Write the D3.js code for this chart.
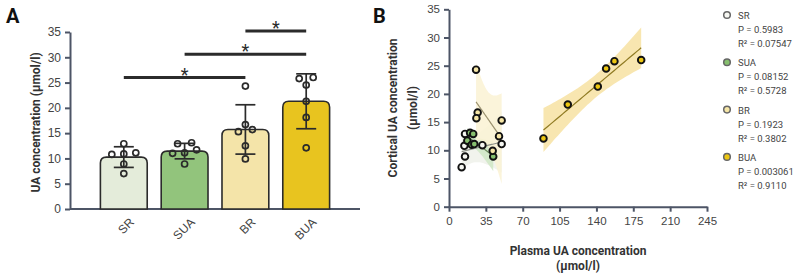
<!DOCTYPE html>
<html>
<head>
<meta charset="utf-8">
<script src="https://cdn.jsdelivr.net/npm/d3@7"></script>
<style>
  body { margin: 0; background: #fff; }
  svg { font-family: Roboto, "Noto Sans", sans-serif; }
  .axis path, .axis line { stroke: #4d5566; stroke-width: 2; }
  .axis text { fill: #444; }
</style>
</head>
<body>
<svg width="794" height="275"></svg>
<script>
const groups = ["SR", "SUA", "BR", "BUA"];

// plasma (x) and cortical (y) UA, µmol/l
const plasmaSR = [12.0, 15.2, 14.6, 15.2, 31.7, 50.0];
const corticalSR = [7.0, 8.9, 10.8, 12.9, 10.9, 11.1];
const plasmaSUA = [20.0, 23.0, 17.4, 21.6, 24.0, 42.0];
const corticalSUA = [13.1, 12.9, 11.7, 11.0, 11.1, 8.9];
const plasmaBR = [25.7, 27.2, 26.0, 50.0, 47.5, 41.5];
const corticalBR = [24.3, 16.7, 15.7, 15.3, 12.5, 9.9];
const plasmaBUA = [89.7, 112.8, 141.3, 149.2, 157.1, 182.5];
const corticalBUA = [12.1, 18.1, 21.3, 24.5, 25.8, 26.0];

const pValues = ["0.5983", "0.08152", "0.1923", "0.003061"];
const r2Values = ["0.07547", "0.5728", "0.3802", "0.9110"];

const sigPairs = [["SR", "BR"], ["SUA", "BUA"], ["BR", "BUA"]];

const yTicksA = d3.range(0, 36, 5);
const yTicksB = d3.range(0, 36, 5);
const xTicksB = d3.range(0, 246, 35);

const barFill = {SR: "#e4ecda", SUA: "#92c47c", BR: "#f4e4a9", BUA: "#e8c41f"};
const dotFill = {SR: "#f6f7f2", SUA: "#86bf6e", BR: "#f6e6a6", BUA: "#ecc612"};
const bandFill = {SR: "#eef1ea", SUA: "#cfe6c4", BR: "#faf2d4", BUA: "#f7e2a2"};
const lineCol = {SR: "#8c9088", SUA: "#6d8a5e", BR: "#9b9270", BUA: "#8f7a22"};

const plasma = {SR: plasmaSR, SUA: plasmaSUA, BR: plasmaBR, BUA: plasmaBUA};
const cortical = {SR: corticalSR, SUA: corticalSUA, BR: corticalBR, BUA: corticalBUA};

const svg = d3.select("svg");
const ink = "#2b2b2b";

// ---------- panel A ----------
const xA = d3.scaleBand().domain(groups).range([70, 360]).paddingInner(0.23).paddingOuter(0.5);
const yA = d3.scaleLinear().domain([0, 35]).range([209, 32]);

const gA = svg.append("g");

gA.append("g").attr("class", "axis")
  .attr("transform", `translate(${xA.range()[0]},0)`)
  .call(d3.axisLeft(yA).tickValues(yTicksA).tickSize(5).tickSizeOuter(0).tickPadding(4))
  .selectAll("text").style("font-size", "12px");

const xAxisA = gA.append("g").attr("class", "axis")
  .attr("transform", `translate(0,${yA(0)})`)
  .call(d3.axisBottom(xA).tickSize(0).tickSizeOuter(0));
xAxisA.select(".domain").attr("d", `M${xA.range()[0]},0H${xA.range()[1]}`);
xAxisA.selectAll("text")
  .style("font-size", "12px")
  .attr("text-anchor", "end")
  .attr("dy", "0.35em")
  .attr("y", 0)
  .attr("transform", "translate(8,11) rotate(-45)");

function topRounded(x, y, w, h, r) {
  return `M${x},${y + h}V${y + r}Q${x},${y} ${x + r},${y}H${x + w - r}Q${x + w},${y} ${x + w},${y + r}V${y + h}Z`;
}

const stats = groups.map(g => ({
  g, mean: d3.mean(cortical[g]), sd: d3.deviation(cortical[g])
}));

gA.selectAll(".bar").data(stats).enter().append("path")
  .attr("class", "bar")
  .attr("d", d => topRounded(xA(d.g), yA(d.mean), xA.bandwidth(), yA(0) - yA(d.mean), 6))
  .attr("fill", d => barFill[d.g])
  .attr("stroke", ink).attr("stroke-width", 1.6);

// jittered dots: cluster close values and spread them sideways
function jitter(vals) {
  const idx = vals.map((v, i) => i).sort((a, b) => vals[a] - vals[b]);
  const off = new Array(vals.length).fill(0);
  let cluster = [idx[0]];
  const flush = () => {
    const n = cluster.length;
    const step = n === 2 ? 14 : 12;
    cluster.forEach((k, j) => off[k] = (j - (n - 1) / 2) * step);
  };
  for (let i = 1; i < idx.length; i++) {
    if (vals[idx[i]] - vals[idx[i - 1]] < 1.0) cluster.push(idx[i]);
    else { flush(); cluster = [idx[i]]; }
  }
  flush();
  return off;
}

groups.forEach(g => {
  const off = jitter(cortical[g]);
  const cx = xA(g) + xA.bandwidth() / 2;
  gA.selectAll(null).data(cortical[g]).enter().append("circle")
    .attr("cx", (d, i) => cx + off[i])
    .attr("cy", d => yA(d))
    .attr("r", 3)
    .attr("fill", "none")
    .attr("stroke", ink).attr("stroke-width", 1.7);
});

const eb = gA.selectAll(".eb").data(stats).enter().append("g")
  .attr("transform", d => `translate(${xA(d.g) + xA.bandwidth() / 2},0)`)
  .attr("stroke", ink).attr("stroke-width", 1.7);
eb.append("line").attr("y1", d => yA(d.mean - d.sd)).attr("y2", d => yA(d.mean + d.sd));
eb.append("line").attr("x1", -10).attr("x2", 10).attr("y1", d => yA(d.mean + d.sd)).attr("y2", d => yA(d.mean + d.sd));
eb.append("line").attr("x1", -10).attr("x2", 10).attr("y1", d => yA(d.mean - d.sd)).attr("y2", d => yA(d.mean - d.sd));

// significance brackets
let prevLevel = -Infinity;
sigPairs.forEach(([a, b]) => {
  const span = groups.slice(groups.indexOf(a), groups.indexOf(b) + 1);
  const top = d3.max(span, g => d3.max(cortical[g]));
  const level = Math.max(top + 1.7, prevLevel + 4.6);
  prevLevel = level;
  const x1 = xA(a) + xA.bandwidth() / 2, x2 = xA(b) + xA.bandwidth() / 2;
  gA.append("line").attr("x1", x1).attr("x2", x2)
    .attr("y1", yA(level)).attr("y2", yA(level))
    .attr("stroke", ink).attr("stroke-width", 3);
  gA.append("text").attr("x", (x1 + x2) / 2).attr("y", yA(level) + 3)
    .attr("text-anchor", "middle").style("font-size", "18px").attr("fill", ink)
    .text("*");
});

gA.append("text")
  .attr("transform", `translate(40,${(yA(0) + yA(35)) / 2 + 2}) rotate(-90)`)
  .attr("text-anchor", "middle").style("font-size", "12px").style("font-weight", "bold")
  .attr("fill", "#333").text("UA concentration (µmol/l)");

svg.append("text").attr("x", 6).attr("y", 23).style("font-size", "20px")
  .style("font-weight", "bold").attr("fill", "#111").text("A");

// ---------- panel B ----------
const xB = d3.scaleLinear().domain([0, 245]).range([449, 707]);
const yB = d3.scaleLinear().domain([0, 35]).range([206.7, 9.3]);
const gB = svg.append("g");

gB.append("g").attr("class", "axis")
  .attr("transform", `translate(${xB(0)},0)`)
  .call(d3.axisLeft(yB).tickValues(yTicksB).tickSize(5).tickSizeOuter(0).tickPadding(4))
  .selectAll("text").style("font-size", "11.5px");
gB.append("g").attr("class", "axis")
  .attr("transform", `translate(0,${yB(0)})`)
  .call(d3.axisBottom(xB).tickValues(xTicksB).tickSize(5).tickSizeOuter(0).tickPadding(5))
  .selectAll("text").style("font-size", "11.5px");

const tCrit = 2.776; // t(0.975, df=4)

function fit(xs, ys) {
  const n = xs.length, mx = d3.mean(xs), my = d3.mean(ys);
  const sxx = d3.sum(xs, x => (x - mx) ** 2);
  const sxy = d3.sum(xs, (x, i) => (x - mx) * (ys[i] - my));
  const b = sxy / sxx, a = my - b * mx;
  const sse = d3.sum(xs, (x, i) => (ys[i] - a - b * x) ** 2);
  const s = Math.sqrt(sse / (n - 2));
  const [lo, hi] = d3.extent(xs);
  const pts = d3.range(0, 41).map(k => {
    const x = lo + (hi - lo) * k / 40;
    const yh = a + b * x;
    const h = tCrit * s * Math.sqrt(1 / n + (x - mx) ** 2 / sxx);
    return {x, y: yh, y0: yh - h, y1: yh + h};
  });
  return pts;
}

const fits = groups.map(g => ({g, pts: fit(plasma[g], cortical[g])}));

const area = d3.area().x(d => xB(d.x)).y0(d => yB(d.y0)).y1(d => yB(d.y1));
const line = d3.line().x(d => xB(d.x)).y(d => yB(d.y));

gB.selectAll(".band").data(fits).enter().append("path")
  .attr("d", d => area(d.pts)).attr("fill", d => bandFill[d.g]).attr("opacity", 0.85);
gB.selectAll(".fit").data(fits).enter().append("path")
  .attr("d", d => line(d.pts)).attr("fill", "none")
  .attr("stroke", d => lineCol[d.g]).attr("stroke-width", 1.2);

groups.forEach(g => {
  gB.selectAll(null).data(plasma[g]).enter().append("circle")
    .attr("cx", d => xB(d))
    .attr("cy", (d, i) => yB(cortical[g][i]))
    .attr("r", 3.3)
    .attr("fill", dotFill[g])
    .attr("stroke", "#111").attr("stroke-width", 1.9);
});

const yLabB = gB.append("text")
  .attr("transform", `translate(397,${(yB(0) + yB(35)) / 2}) rotate(-90)`)
  .attr("text-anchor", "middle").style("font-size", "12px").style("font-weight", "bold")
  .attr("fill", "#333");
yLabB.append("tspan").attr("x", 0).attr("dy", 0).text("Cortical UA concentration");
yLabB.append("tspan").attr("x", 0).attr("dy", 20).text("(µmol/l)");

const xLabB = gB.append("text")
  .attr("transform", `translate(${(xB(0) + xB(245)) / 2},255)`)
  .attr("text-anchor", "middle").style("font-size", "12px").style("font-weight", "bold")
  .attr("fill", "#333");
xLabB.append("tspan").attr("x", 0).attr("dy", 0).text("Plasma UA concentration");
xLabB.append("tspan").attr("x", 0).attr("dy", 15).text("(µmol/l)");

svg.append("text").attr("x", 373).attr("y", 23).style("font-size", "20px")
  .style("font-weight", "bold").attr("fill", "#111").text("B");

// legend
const leg = svg.append("g").attr("transform", "translate(727,15)");
const item = leg.selectAll(".li").data(groups).enter().append("g")
  .attr("transform", (d, i) => `translate(0,${i * 47.3})`);
item.append("circle").attr("r", 3.3).attr("fill", d => dotFill[d])
  .attr("stroke", "#666").attr("stroke-width", 1.5);
item.append("text").attr("x", 11).attr("y", 4).style("font-size", "9.5px").attr("fill", "#444")
  .text(d => d);
item.append("text").attr("x", 11).attr("y", 18).style("font-size", "9.5px").attr("fill", "#444")
  .text((d, i) => `P = ${pValues[i]}`);
item.append("text").attr("x", 11).attr("y", 32).style("font-size", "9.5px").attr("fill", "#444")
  .text((d, i) => `R² = ${r2Values[i]}`);
</script>
</body>
</html>
